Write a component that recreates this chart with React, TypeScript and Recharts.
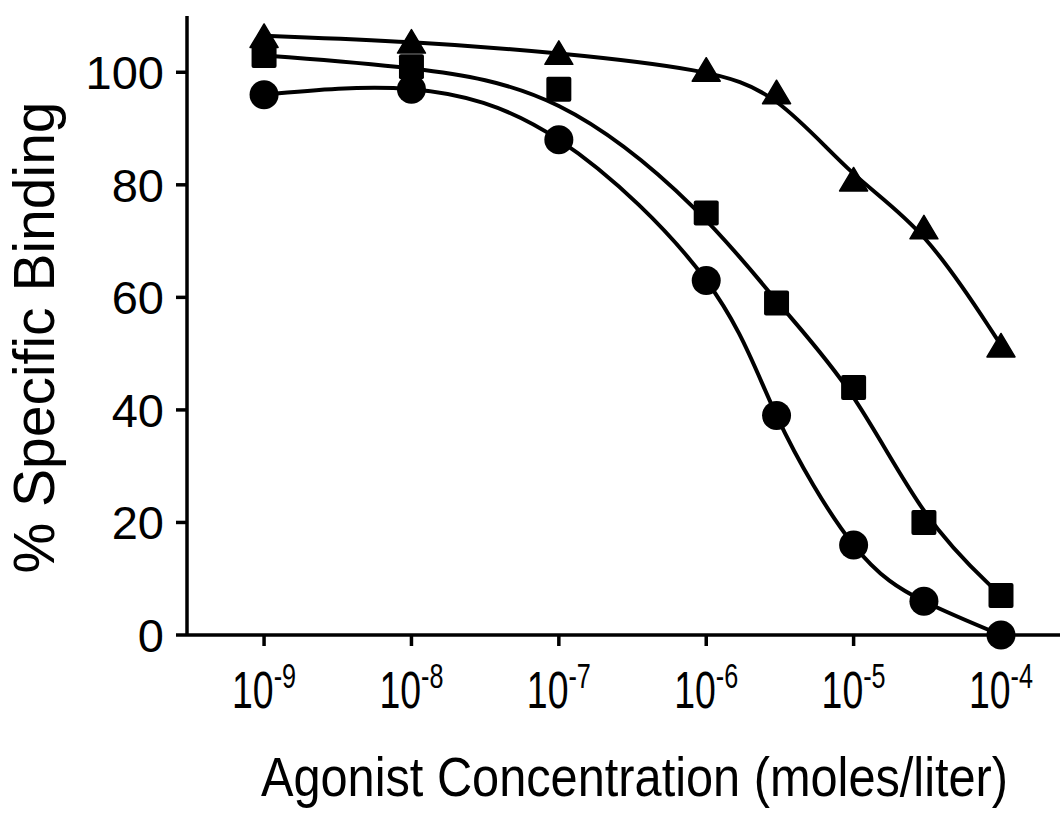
import React from "react";
import { Scatter, ScatterChart, XAxis, YAxis } from "recharts";

// agonist concentration, moles/liter
const concentrations = [1e-9, 1e-8, 1e-7, 1e-6, 3e-6, 1e-5, 3e-5, 1e-4];

// % specific binding for each curve
const circleBinding = [96, 97, 88, 63, 39, 16, 6, 0];
const squareBinding = [103, 101, 97, 75, 59, 44, 20, 7];
const triangleBinding = [106.5, 105.5, 103.5, 100.5, 96.5, 81, 72.5, 51.5];

const xTicks = [1e-9, 1e-8, 1e-7, 1e-6, 1e-5, 1e-4];
const yTicks = [0, 20, 40, 60, 80, 100];

const FONT = "'Liberation Sans', Arial, Helvetica, sans-serif";
const AXIS_STROKE = 3.5;
const CURVE_STROKE = 4;

const toPoints = (ys: number[]) =>
  concentrations.map((x, i) => ({ x, y: ys[i] }));

const circles = toPoints(circleBinding);
const squares = toPoints(squareBinding);
const triangles = toPoints(triangleBinding);

function CircleMark({ cx, cy }: any) {
  return <circle cx={cx} cy={cy} r={14.5} fill="#000" />;
}

function SquareMark({ cx, cy }: any) {
  return <rect x={cx - 12.5} y={cy - 12.5} width={25} height={25} rx={2} fill="#000" />;
}

function TriangleMark({ cx, cy }: any) {
  const w = 28;
  const h = 23.5;
  return (
    <path
      d={`M${cx},${cy - h / 2} L${cx + w / 2},${cy + h / 2} L${cx - w / 2},${cy + h / 2} Z`}
      fill="#000"
      stroke="#000"
      strokeWidth={1.5}
      strokeLinejoin="round"
    />
  );
}

function PowerTick({ x, y, payload }: any) {
  const exp = Math.round(Math.log10(payload.value));
  return (
    <g transform={`translate(${x},${y + 60}) scale(0.72,1)`}>
      <text textAnchor="middle" fontFamily={FONT} fontSize={52} fill="#000">
        <tspan>10</tspan>
        <tspan dy={-20} fontSize={35}>
          {exp}
        </tspan>
      </text>
    </g>
  );
}

function YTick({ x, y, payload }: any) {
  return (
    <text
      x={x - 10}
      y={y}
      dy={17}
      textAnchor="end"
      fontFamily={FONT}
      fontSize={47}
      fill="#000"
    >
      {payload.value}
    </text>
  );
}

function XTitle({ viewBox }: any) {
  const cx = viewBox.x + viewBox.width / 2;
  return (
    <g transform={`translate(${cx + 2},${viewBox.y + 161}) scale(0.87,1)`}>
      <text textAnchor="middle" fontFamily={FONT} fontSize={56} fill="#000">
        Agonist Concentration (moles/liter)
      </text>
    </g>
  );
}

function YTitle({ viewBox }: any) {
  const cy = viewBox.y + viewBox.height / 2 + 12;
  return (
    <text
      transform={`translate(54,${cy}) rotate(-90)`}
      textAnchor="middle"
      fontFamily={FONT}
      fontSize={57}
      fill="#000"
    >
      % Specific Binding
    </text>
  );
}

export default function App() {
  return (
    <div
      style={{
        position: "fixed",
        left: 0,
        top: 0,
        width: 1060,
        height: 827,
        overflow: "hidden",
        background: "#fff",
      }}
    >
      <ScatterChart
        width={1120}
        height={827}
        margin={{ top: 16, right: 42, bottom: 0, left: 0 }}
      >
        <XAxis
          dataKey="x"
          type="number"
          scale="log"
          domain={[3e-10, 3.33e-4]}
          allowDataOverflow
          ticks={xTicks}
          tick={<PowerTick />}
          tickSize={11}
          height={192}
          axisLine={{ stroke: "#000", strokeWidth: AXIS_STROKE }}
          tickLine={{ stroke: "#000", strokeWidth: AXIS_STROKE }}
          label={<XTitle />}
        />
        <YAxis
          dataKey="y"
          type="number"
          domain={[0, 110]}
          ticks={yTicks}
          width={187}
          tick={<YTick />}
          tickSize={11}
          axisLine={{ stroke: "#000", strokeWidth: AXIS_STROKE }}
          tickLine={{ stroke: "#000", strokeWidth: AXIS_STROKE }}
          label={<YTitle />}
        />
        <Scatter
          data={circles}
          shape={<CircleMark />}
          line={{ stroke: "#000", strokeWidth: CURVE_STROKE }}
          lineJointType="natural"
          isAnimationActive={false}
        />
        <Scatter
          data={squares}
          shape={<SquareMark />}
          line={{ stroke: "#000", strokeWidth: CURVE_STROKE }}
          lineJointType="basis"
          isAnimationActive={false}
        />
        <Scatter
          data={triangles}
          shape={<TriangleMark />}
          line={{ stroke: "#000", strokeWidth: CURVE_STROKE }}
          lineJointType="basis"
          isAnimationActive={false}
        />
      </ScatterChart>
    </div>
  );
}
